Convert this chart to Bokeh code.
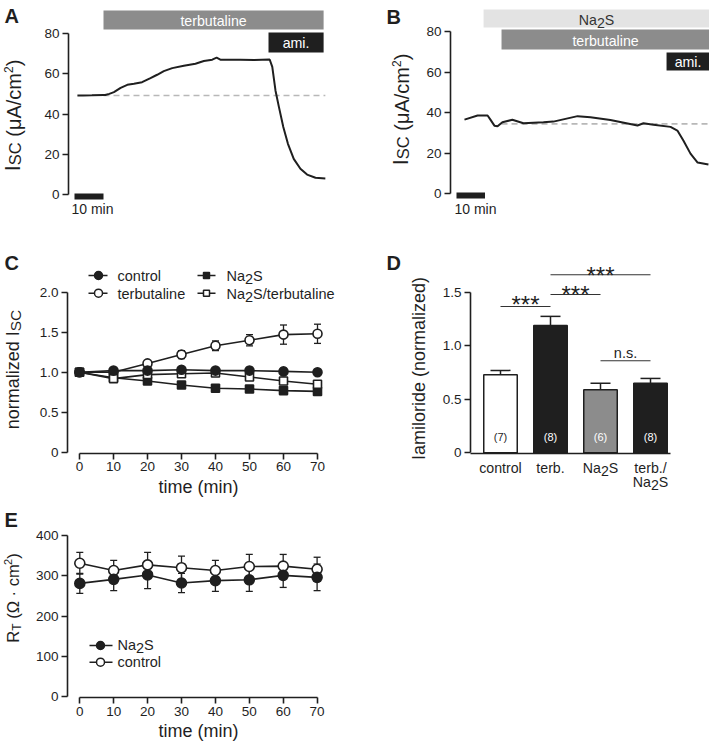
from math import pi
from bokeh.plotting import figure
from bokeh.layouts import column, row
from bokeh.models import Range1d, Label, Whisker, TeeHead, FixedTicker, ColumnDataSource
from bokeh.embed import file_html
from bokeh.resources import INLINE

# ---------------- DATA ----------------
# Panel A: short-circuit current trace (min, uA/cm2)
a_time = [1.0, 3.0, 6.0, 10.0, 10.6, 12.0, 13.6, 15.9, 18.2, 20.5, 23.3, 26.2, 28.5, 30.8, 33.7,
          37.7, 41.7, 44.6, 47.5, 49.0, 50.3, 57.2, 62.0, 67.3, 68.2, 69.3, 70.5, 72.0, 73.6,
          75.6, 77.9, 80.2, 83.1, 86.5]
a_isc = [49.2, 49.2, 49.3, 49.5, 49.4, 50.0, 50.9, 53.0, 54.5, 55.0, 55.8, 57.8, 59.5, 61.3, 62.8,
         64.0, 65.0, 66.3, 67.0, 68.0, 67.0, 67.0, 66.8, 67.1, 63.4, 51.7, 43.4, 33.5, 25.2,
         17.7, 12.8, 9.9, 8.3, 8.0]
a_baseline = 49.2
a_treatments = ["terbutaline", "ami."]
a_start = [10.0, 66.9]
a_end = [85.9, 85.9]

# Panel B
b_time = [2.8, 7.4, 10.9, 11.9, 13.3, 14.4, 16.1, 19.6, 23.5, 30.5, 34.0, 42.5, 47.0, 54.0,
          63.5, 65.6, 69.1, 75.1, 77.5, 79.6, 82.1, 84.6, 88.4]
b_isc = [36.5, 38.5, 38.5, 36.5, 33.5, 33.2, 35.2, 36.4, 34.7, 35.2, 35.5, 38.2, 37.6, 36.3,
         33.6, 34.7, 34.0, 32.9, 31.1, 26.2, 19.7, 15.3, 14.3]
b_baseline = 34.4
b_treatments = ["Na2S", "terbutaline", "ami."]
b_start = [9.5, 15.8, 73.7]
b_end = [88.8, 88.8, 88.8]
scale_min = 10

# Panel C: normalized Isc
c_time = [0, 10, 20, 30, 40, 50, 60, 70]
c_control = [1.0, 1.02, 1.02, 1.03, 1.02, 1.02, 1.01, 1.0]
c_control_err = [0.0, 0.03, 0.03, 0.03, 0.03, 0.04, 0.04, 0.03]
c_terb = [1.0, 1.0, 1.11, 1.22, 1.33, 1.40, 1.47, 1.48]
c_terb_err = [0.0, 0.02, 0.03, 0.05, 0.06, 0.07, 0.12, 0.12]
c_na2s = [1.0, 0.93, 0.89, 0.84, 0.80, 0.79, 0.77, 0.76]
c_na2s_err = [0.0, 0.02, 0.02, 0.02, 0.02, 0.02, 0.03, 0.03]
c_na2s_terb = [1.0, 0.92, 0.97, 0.98, 0.99, 0.94, 0.89, 0.85]
c_na2s_terb_err = [0.0, 0.02, 0.03, 0.03, 0.03, 0.03, 0.04, 0.04]

# Panel D: amiloride-sensitive current
d_groups = ["control", "terb.", "Na2S", "terb./Na2S"]
d_mean = [0.73, 1.19, 0.59, 0.65]
d_sem = [0.04, 0.085, 0.06, 0.045]
d_n = [7, 8, 6, 8]
d_sig = [(0, 1, "***"), (1, 2, "***"), (1, 3, "***"), (2, 3, "n.s.")]

# Panel E: transepithelial resistance
e_time = [0, 10, 20, 30, 40, 50, 60, 70]
e_na2s = [281, 291, 302, 282, 288, 290, 301, 296]
e_na2s_err = [25, 28, 34, 24, 27, 29, 30, 33]
e_control = [331, 313, 327, 320, 313, 323, 324, 316]
e_control_err = [27, 25, 31, 29, 25, 30, 29, 30]

# ---------------- STYLE / HELPERS ----------------
S = 1.0
K = 0.3          # baseline correction (fraction of font size)
FONT = "Liberation Sans"
INK = "#1f1f1f"
GREY = "#8c8c8c"
LIGHT = "#e3e3e3"
DASH = "#b8b8b8"

AW = {' ': 278, '(': 333, ')': 333, '/': 278, '.': 278, '\u00b7': 278, '*': 389,
      'A': 667, 'C': 722, 'D': 722, 'E': 667, 'I': 278, 'N': 722, 'R': 722, 'S': 667, 'T': 611,
      'a': 556, 'b': 556, 'c': 500, 'd': 556, 'e': 556, 'i': 222, 'l': 222, 'm': 833, 'n': 556,
      'o': 556, 'r': 333, 's': 500, 't': 278, 'u': 556, 'z': 500, '\u03bc': 576, '\u03a9': 768}


def px(v):
    return int(round(S * v))


def fs(v):
    return f"{v * S:.2f}px"


def tw(t, size):
    return sum(AW.get(ch, 556) for ch in t) / 1000.0 * size * S


def chem(t, size, sub=3.0):
    out = []
    parts = t.split("Na2S")
    for i, part in enumerate(parts):
        if part:
            out.append((part, size, 0))
        if i < len(parts) - 1:
            out += [("Na", size, 0), ("2", size, -sub), ("S", size, 0)]
    return out


def style_axis(ax, ticks, bounds, overrides=None, size=13.5):
    ax.ticker = FixedTicker(ticks=ticks)
    ax.bounds = bounds
    ax.axis_line_color = INK
    ax.axis_line_width = 1.6
    ax.major_tick_line_color = INK
    ax.major_tick_line_width = 1.6
    ax.major_tick_out = 6
    ax.major_tick_in = 0
    ax.minor_tick_line_color = None
    ax.major_label_text_font = FONT
    ax.major_label_text_font_size = fs(size)
    ax.major_label_text_color = INK
    ax.major_label_standoff = 3
    if overrides:
        ax.major_label_overrides = overrides


class Panel:
    """One figure whose frame is the whole panel box; axes are pinned inside it."""

    def __init__(self, box, xmap, ymap, yaxis_at, xaxis_at=None):
        self.X, self.Y = xmap, ymap
        bx0, by0, bx1, by1 = box
        p = figure(width=px(bx1) - px(bx0), height=px(by1) - px(by0), title=None,
                   x_range=Range1d(xmap(px(bx0) / S), xmap(px(bx1) / S)),
                   y_range=Range1d(ymap(px(by1) / S), ymap(px(by0) / S)),
                   min_border=0, min_border_left=0, min_border_right=0,
                   min_border_top=0, min_border_bottom=0,
                   x_axis_location="below" if xaxis_at is not None else None,
                   y_axis_location="left", tools="",
                   toolbar_location=None, output_backend="svg")
        p.outline_line_color = None
        p.grid.visible = False
        p.background_fill_color = "white"
        p.border_fill_color = "white"
        p.yaxis[0].fixed_location = xmap(yaxis_at)
        if xaxis_at is not None:
            p.xaxis[0].fixed_location = ymap(xaxis_at)
        self.p = p

    def label_d(self, xd, yd, t, size, color=INK, align="left", bold=False, angle=0.0, xo=0.0, yo=0.0):
        if angle == 0:
            yo += K * size * S
        else:
            xo -= K * size * S
        self.p.add_layout(Label(x=xd, y=yd, text=t, x_offset=xo, y_offset=yo,
                                text_font=FONT, text_font_size=fs(size), text_color=color,
                                text_align=align, text_baseline="alphabetic",
                                text_font_style="bold" if bold else "normal", angle=angle))

    def label(self, rx, ry, t, size, **kw):
        self.label_d(self.X(rx), self.Y(ry), t, size, **kw)

    def rich_d(self, xd, yd, pieces, align="left", angle=0.0, color=INK):
        widths = [tw(t, sz) for t, sz, sh in pieces]
        total = sum(widths)
        adv = {"left": 0.0, "center": -total / 2.0, "right": -total}[align]
        for (t, sz, sh), w in zip(pieces, widths):
            if t.strip():
                if angle == 0:
                    xo, yo = adv, sh * S
                else:
                    xo, yo = -sh * S, adv
                self.label_d(xd, yd, t, sz, color=color, angle=angle, xo=xo, yo=yo)
            adv += w

    def rich(self, rx, ry, pieces, **kw):
        self.rich_d(self.X(rx), self.Y(ry), pieces, **kw)


def whiskers(p, x, lo, hi, head, lower=True, lw=1.3):
    src = ColumnDataSource(dict(base=list(x), lower=list(lo), upper=list(hi)))
    p.add_layout(Whisker(source=src, base="base", lower="lower", upper="upper", dimension="height",
                         line_color=INK, line_width=lw,
                         upper_head=TeeHead(size=head, line_color=INK, line_width=lw),
                         lower_head=TeeHead(size=head, line_color=INK, line_width=lw) if lower else None))


def series(p, x, y, err, marker, fill, size):
    p.line(x, y, line_color=INK, line_width=1.6)
    whiskers(p, x, [a - b for a, b in zip(y, err)], [a + b for a, b in zip(y, err)], px(7))
    p.scatter(x, y, marker=marker, size=size, fill_color=fill, line_color=INK, line_width=1.6)


def trace_panel(P, t, v, base, names, starts, ends, rows, fills, tcolors, text_base, sbar, sbar_text):
    p = P.p
    p.line([starts[names.index("terbutaline")], t[-1]], [base, base], line_color=DASH,
           line_width=1.6, line_dash="6 4")
    p.line(t, v, line_color=INK, line_width=2.0)
    for i, nm in enumerate(names):
        p.quad(left=[starts[i]], right=[ends[i]], top=[P.Y(rows[i][0])], bottom=[P.Y(rows[i][1])],
               fill_color=fills[i], line_color=None)
        P.rich_d((starts[i] + ends[i]) / 2.0, P.Y(text_base[i]), chem(nm, 14.2), align="center",
                 color=tcolors[i])
    p.quad(left=[0], right=[scale_min], top=[P.Y(sbar[0])], bottom=[P.Y(sbar[1])],
           fill_color=INK, line_color=None)
    P.label(sbar_text[0], sbar_text[1], f"{scale_min} min", 14)
    style_axis(p.yaxis[0], [0, 20, 40, 60, 80], (0, 80))


ISC_LABEL = [("I", 22, 0), ("SC", 16.5, 0), (" ", 20, 0), ("(\u03bcA/cm", 20, 0), ("2", 12, 7), (")", 20, 0)]

# ---------------- PANEL A ----------------
A = Panel((0, 0, 350, 228), lambda rx: (rx - 74) / 2.9, lambda ry: (194 - ry) / 2.0125, yaxis_at=68)
trace_panel(A, a_time, a_isc, a_baseline, a_treatments, a_start, a_end,
            [(10, 29), (32, 52)], [GREY, INK], ["white", "white"], [25, 46.7], (193, 199), (71, 213))
A.label(4, 21, "A", 20, bold=True)
A.rich(19, 115, ISC_LABEL, align="center", angle=pi / 2)

# ---------------- PANEL B ----------------
B = Panel((350, 0, 709, 228), lambda rx: (rx - 456) / 2.85, lambda ry: (193 - ry) / 2.025, yaxis_at=450)
trace_panel(B, b_time, b_isc, b_baseline, b_treatments, b_start, b_end,
            [(9, 27), (29, 49), (52, 70)], [LIGHT, GREY, INK], ["#333333", "white", "white"],
            [24, 44.3, 65.7], (192, 198), (454, 212.3))
B.label(386, 22, "B", 20, bold=True)
B.rich(407, 109, ISC_LABEL, align="center", angle=pi / 2)

# ---------------- PANEL C ----------------
C = Panel((0, 228, 380, 505), lambda rx: (rx - 79) / 3.4, lambda ry: (451.7 - ry) / 80.0,
          yaxis_at=67, xaxis_at=452.5)
pc = C.p
series(pc, c_time, c_terb, c_terb_err, "circle", "white", px(9))
series(pc, c_time, c_na2s, c_na2s_err, "square", INK, px(7.5))
series(pc, c_time, c_na2s_terb, c_na2s_terb_err, "square", "white", px(7.5))
series(pc, c_time, c_control, c_control_err, "circle", INK, px(9))
style_axis(pc.yaxis[0], [0, 0.5, 1, 1.5, 2], (0, 2), {0: "0", 0.5: "0.5", 1: "1.0", 1.5: "1.5", 2: "2.0"})
style_axis(pc.xaxis[0], c_time, (0, 70))
C.label(4, 268, "C", 20, bold=True)
C.rich(18, 369, [("normalized", 18, 0), (" ", 18, 0), ("I", 18, 0), ("SC", 15.5, -1.5)],
       align="center", angle=pi / 2)
C.label(198, 491.5, "time (min)", 18, align="center")
for (lx0, lx1, mx, ly, ty, tx, marker, fill, name) in [
        (88, 107, 98, 275, 280, 117, "circle", INK, "control"),
        (88, 107, 98, 292.7, 297.7, 117, "circle", "white", "terbutaline"),
        (197, 215, 206, 275, 280, 226, "square", INK, "Na2S"),
        (197, 215, 206, 292.7, 297.7, 226, "square", "white", "Na2S/terbutaline")]:
    pc.line([C.X(lx0), C.X(lx1)], [C.Y(ly), C.Y(ly)], line_color=INK, line_width=1.6)
    pc.scatter([C.X(mx)], [C.Y(ly)], marker=marker, size=px(8.5 if marker == "circle" else 6.5),
               fill_color=fill, line_color=INK, line_width=1.5)
    C.rich(tx, ty, chem(name, 14.5))

# ---------------- PANEL D ----------------
D = Panel((380, 228, 709, 505), lambda rx: (rx - 500) / 50.0, lambda ry: (452.3 - ry) / 107.0,
          yaxis_at=470, xaxis_at=452.8)
pd_ = D.p
d_x = list(range(len(d_groups)))
d_fill = ["white", INK, GREY, INK]
d_ncol = [INK, "white", "white", "white"]
whiskers(pd_, d_x, d_mean, [m + e for m, e in zip(d_mean, d_sem)], px(20), lower=False, lw=1.5)
pd_.vbar(x=d_x, top=d_mean, bottom=0, width=0.67, fill_color=d_fill, line_color=INK, line_width=1.5)
style_axis(pd_.yaxis[0], [0, 0.5, 1, 1.5], (0, 1.5), {0: "0", 0.5: "0.5", 1: "1.0", 1.5: "1.5"})
xa = pd_.xaxis[0]
xa.ticker = FixedTicker(ticks=[])
xa.bounds = (-0.6, 3.4)
xa.axis_line_color = INK
xa.axis_line_width = 1.6
xa.major_tick_line_color = None
xa.minor_tick_line_color = None
for i, g in enumerate(d_groups):
    cx = 500 + 50 * d_x[i]
    D.label(cx, 440, f"({d_n[i]})", 11, color=d_ncol[i], align="center")
    if "/" in g:
        first, second = g.split("/")
        D.rich(cx, 471.7, chem(first + "/", 14.2), align="center")
        D.rich(cx, 485.7, chem(second, 14.2), align="center")
    else:
        D.rich(cx, 471.7, chem(g, 14.2), align="center")
sig_line_y = [306, 294, 274.3, 360.3]
sig_text_y = [297 + 13.8, 287 + 13.8, 268 + 13.8, 356.7]
for (a, b, txt), ly, ty in zip(d_sig, sig_line_y, sig_text_y):
    pd_.line([d_x[a], d_x[b]], [D.Y(ly), D.Y(ly)], line_color="#333333", line_width=1.1)
    D.label(500 + 25 * (d_x[a] + d_x[b]), ty, txt, 24 if txt == "***" else 14.5, align="center")
D.label(386, 268, "D", 20, bold=True)
D.rich(424, 368, [("I", 18, 0), ("amiloride", 18, 0), (" ", 18, 0), ("(normalized)", 18, 0)],
       align="center", angle=pi / 2)

# ---------------- PANEL E ----------------
E = Panel((0, 505, 380, 741), lambda rx: (rx - 79.3) / 3.39, lambda ry: (696 - ry) / 0.4025,
          yaxis_at=67, xaxis_at=697)
pe = E.p
series(pe, e_time, e_control, e_control_err, "circle", "white", px(9.5))
series(pe, e_time, e_na2s, e_na2s_err, "circle", INK, px(9.5))
style_axis(pe.yaxis[0], [0, 100, 200, 300, 400], (0, 400))
style_axis(pe.xaxis[0], e_time, (0, 70))
E.label(4, 525, "E", 20, bold=True)
E.rich(17, 597.5, [("R", 16.5, 0), ("T", 12, -3), (" ", 16.5, 0), ("(\u03a9 \u00b7 cm", 16.5, 0), ("2", 11, 6),
                   (")", 16.5, 0)], align="center", angle=pi / 2)
E.label(198, 735.5, "time (min)", 18, align="center")
for (ly, ty, fill, name) in [(645, 649.3, INK, "Na2S"), (661.7, 666, "white", "control")]:
    pe.line([E.X(89), E.X(112)], [E.Y(ly), E.Y(ly)], line_color=INK, line_width=1.6)
    pe.scatter([E.X(100)], [E.Y(ly)], marker="circle", size=px(8.5), fill_color=fill, line_color=INK,
               line_width=1.5)
    E.rich(117, ty, chem(name, 14.5))

layout = column(row(A.p, B.p), row(C.p, D.p), E.p)
open("out.html", "w").write(file_html(layout, INLINE, title="figure"))
